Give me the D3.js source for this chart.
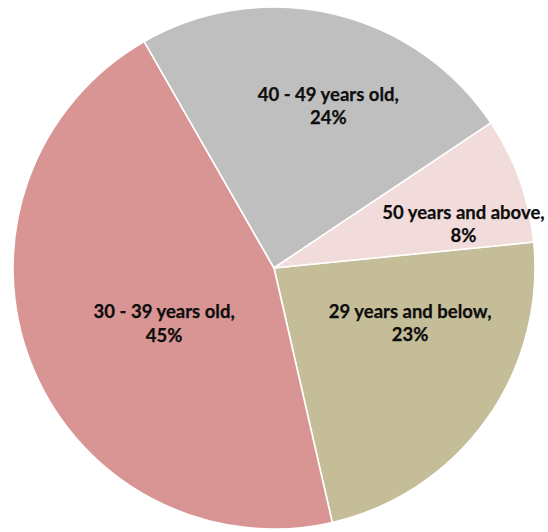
<!DOCTYPE html>
<html>
<head>
<meta charset="utf-8">
<script src="https://cdn.jsdelivr.net/npm/d3@7"></script>
<style>
  html, body { margin: 0; padding: 0; background: #ffffff; }
  svg { display: block; }
</style>
</head>
<body>
<svg id="chart" width="548" height="532"></svg>
<script>
// ---- data ----
const categories = ["29 years and below", "30 - 39 years old", "40 - 49 years old", "50 years and above"];
const shares = [23.0, 45.3, 23.9, 7.8];
const colors = ["#c4bd97", "#d99594", "#bfbfbf", "#f2dcdb"];

// ---- layout (styling, not data) ----
const width = 548, height = 532;
const cx = 274, cy = 268, R = 261;
const startDeg = 84.3;
const labelRadiusFrac = 0.6;
const labelNudge = [[9, -37], [36, -2], [18.5, -10], [42, 8.5]];
const lineGap = 23.5;

const svg = d3.select("#chart");
const g = svg.append("g").attr("transform", `translate(${cx},${cy})`);

const data = categories.map((c, i) => ({ cat: c, value: shares[i], color: colors[i], i }));

const start = startDeg * Math.PI / 180;
const pie = d3.pie().sort(null).value(d => d.value)
  .startAngle(start).endAngle(start + 2 * Math.PI);
const arcs = pie(data);

const arc = d3.arc().innerRadius(0).outerRadius(R);
const labelArc = d3.arc().innerRadius(R * labelRadiusFrac).outerRadius(R * labelRadiusFrac);

g.selectAll("path.slice").data(arcs).enter().append("path")
  .attr("class", "slice")
  .attr("d", arc)
  .attr("fill", d => d.data.color)
  .attr("stroke", "#ffffff")
  .attr("stroke-width", 1.6)
  .attr("stroke-linejoin", "round");

const labels = g.selectAll("text.lbl").data(arcs).enter().append("text")
  .attr("class", "lbl")
  .attr("text-anchor", "middle")
  .attr("font-family", "Lato, 'Open Sans', sans-serif")
  .attr("font-weight", "bold")
  .attr("font-size", 18.5)
  .attr("fill", "#0d0d0d")
  .attr("stroke", "#0d0d0d")
  .attr("stroke-width", 0.25)
  .attr("transform", d => {
    const [x, y] = labelArc.centroid(d);
    const n = labelNudge[d.data.i];
    return `translate(${x + n[0]},${y + n[1]})`;
  });

labels.append("tspan")
  .attr("x", 0)
  .attr("y", -lineGap / 2)
  .attr("dominant-baseline", "central")
  .text(d => d.data.cat + ",");
labels.append("tspan")
  .attr("x", 0)
  .attr("y", lineGap / 2)
  .attr("dominant-baseline", "central")
  .text(d => Math.round(d.data.value) + "%");
</script>
</body>
</html>
